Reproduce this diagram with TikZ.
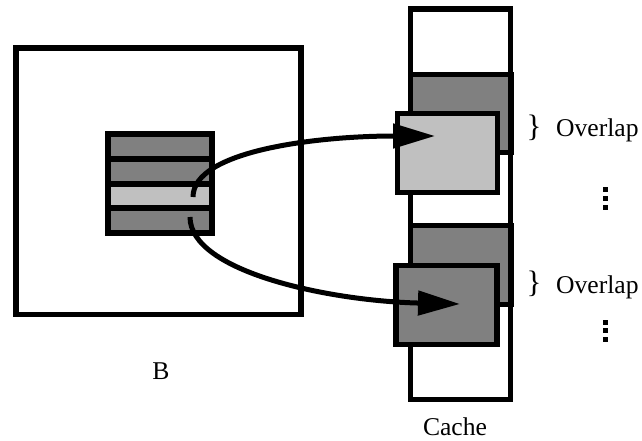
\documentclass[tikz,border=0pt]{standalone}
\usepackage{fontspec}
\setmainfont{Liberation Serif}
\usetikzlibrary{arrows.meta}
\definecolor{dkgray}{RGB}{128,128,128}
\definecolor{ltgray}{RGB}{192,192,192}
\begin{document}
\begin{tikzpicture}[x=1pt,y=-1pt,
  box/.style={draw=black, rectangle, inner sep=0pt, outer sep=0pt},
  stripe/.style={box, line width=6pt, minimum width=104pt, minimum height=24.75pt},
  cblock/.style={box, line width=5.5pt},
  lbl/.style={inner sep=0pt, font=\fontsize{25.6}{28}\selectfont},
  conn/.style={line width=5pt, -{Triangle[length=42pt,width=24pt]}},
  vdot/.style={fill=black}
]
\useasboundingbox (0,0) rectangle (642,441);
% big square B
\node[box, line width=5.5pt, fill=white, minimum width=285pt, minimum height=266.5pt] (bigB) at (158.5,181.25) {};
% stack of stripes
\node[stripe, fill=dkgray] (s1) at (160,146.375) {};
\node[stripe, fill=dkgray] (s2) at (160,171.125) {};
\node[stripe, fill=ltgray] (s3) at (160,195.875) {};
\node[stripe, fill=dkgray] (s4) at (160,220.625) {};
% cache column
\node[cblock, fill=white, minimum width=100pt, minimum height=390.5pt] (cache) at (460.5,204.25) {};
\node[cblock, fill=dkgray, minimum width=100.5pt, minimum height=78pt] (d1) at (460.75,113.5) {};
\node[cblock, fill=ltgray, minimum width=100pt, minimum height=79pt] (l1) at (447.5,153) {};
\node[cblock, fill=dkgray, minimum width=100.5pt, minimum height=79pt] (d2) at (460.75,265) {};
\node[cblock, fill=dkgray, minimum width=101pt, minimum height=79pt] (f2) at (446.5,305) {};
% connectors
\coordinate (a1) at (193,197);
\coordinate (b1) at (435,136);
\coordinate (a2) at (190,217);
\coordinate (b2) at (460,304);
\draw[conn] (a1) .. controls (193,150) and (320,136) .. (b1);
\draw[conn] (a2) .. controls (190,272) and (330,301) .. (b2);
% labels
\node[lbl] (lB) at (161,371.5) {B};
\node[lbl, anchor=base] (lCache) at (455,435) {Cache};
\node[inner sep=0pt, font=\fontsize{31}{31}\selectfont] (br1) at (534,128) {\}};
\node[lbl, anchor=base west] (ov1) at (556,136) {Overlap};
\node[inner sep=0pt, font=\fontsize{31}{31}\selectfont] (br2) at (534,284) {\}};
\node[lbl, anchor=base west] (ov2) at (556,293) {Overlap};
% vertical dots
\foreach \yy in {189.5,198.5,207.5} {\fill[vdot] (603,\yy-2.5) rectangle (608,\yy+2.5);}
\foreach \yy in {322,330.5,339} {\fill[vdot] (603,\yy-2.5) rectangle (608,\yy+2.5);}
\end{tikzpicture}
\end{document}
